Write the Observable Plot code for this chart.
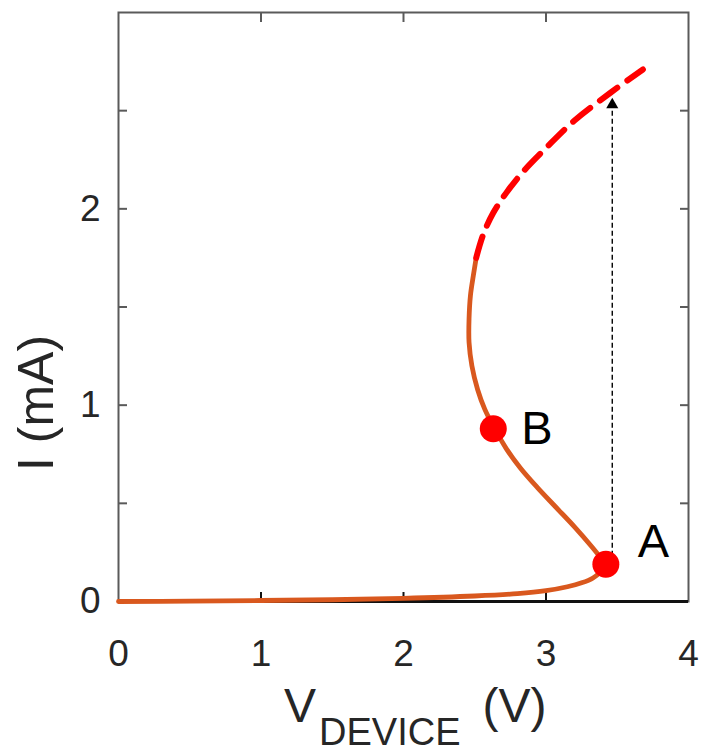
<!DOCTYPE html>
<html><head><meta charset="utf-8">
<script src="https://cdn.jsdelivr.net/npm/d3@7"></script>
<script src="https://cdn.jsdelivr.net/npm/@observablehq/plot@0.6"></script>
<style>
body{margin:0;background:#fff;overflow:hidden;}
svg{font-family:"Liberation Sans",Arial,Helvetica,sans-serif;display:block;}
</style>
</head><body><div id="chart"></div>
<script>
// Stable (solid) branch: low-current part up to A
const lowV = [0, 0.5, 1, 1.5, 2, 2.5, 2.8, 3.0, 3.15, 3.25, 3.33, 3.38, 3.42];
const lowI = [0, 0.002, 0.005, 0.009, 0.016, 0.028, 0.04, 0.055, 0.075, 0.095, 0.12, 0.15, 0.19];
// Solid branch from A back through B to the turning point
const midV = [3.42, 3.32, 3.2, 3.07, 2.94, 2.82, 2.72, 2.64, 2.57, 2.52, 2.48, 2.46, 2.46, 2.47, 2.49, 2.51];
const midI = [0.19, 0.28, 0.38, 0.48, 0.58, 0.68, 0.78, 0.88, 0.98, 1.08, 1.2, 1.32, 1.44, 1.56, 1.66, 1.75];
// Dashed upper branch
const upV = [2.51, 2.56, 2.63, 2.72, 2.84, 3.0, 3.2, 3.45, 3.68];
const upI = [1.75, 1.87, 1.98, 2.08, 2.19, 2.31, 2.45, 2.59, 2.71];
// Marked points
const ptLabel = ["A", "B"];
const ptV = [3.42, 2.63];
const ptI = [0.19, 0.88];
// Jump arrow
const jumpV = 3.465;
const jumpFrom = 0.19;
const jumpTo = 2.59;
// Ticks and axis texts
const xTicks = [0, 1, 2, 3, 4];
const xInnerTicks = [1, 2, 3];
const yLabelTicks = [0, 1, 2];
const yInnerTicks = [0.5, 1, 1.5, 2, 2.5];
const yTitle = "I (mA)";
const xTitleMain = "V";
const xTitleSub = "DEVICE";
const xTitleUnit = "(V)";

const low = lowV.map((v, i) => ({v, i: lowI[i]}));
const mid = midV.map((v, i) => ({v, i: midI[i]}));
const up = upV.map((v, i) => ({v, i: upI[i]}));
const pts = ptLabel.map((l, k) => ({label: l, v: ptV[k], i: ptI[k]}));

const orange = "#d9581e";
const frameColor = "#5a5a5a";
const textColor = "#262626";

const plot = Plot.plot({
  width: 705,
  height: 755,
  marginLeft: 118,
  marginRight: 17,
  marginTop: 12,
  marginBottom: 154,
  style: {fontFamily: "Liberation Sans, Arial, sans-serif", color: textColor, background: "#fff"},
  x: {domain: [0, 4]},
  y: {domain: [0, 3]},
  marks: [
    Plot.frame({stroke: frameColor, strokeWidth: 2}),
    // inner ticks
    Plot.axisX(xInnerTicks, {anchor: "bottom", tickSize: -9, tickFormat: () => "", stroke: "#111", strokeWidth: 2, label: null}),
    Plot.axisX(xInnerTicks, {anchor: "top", tickSize: -9, tickFormat: () => "", stroke: frameColor, strokeWidth: 2, label: null}),
    Plot.axisY(yInnerTicks, {anchor: "left", tickSize: -9, tickFormat: () => "", stroke: frameColor, strokeWidth: 2, label: null}),
    Plot.axisY(yInnerTicks, {anchor: "right", tickSize: -9, tickFormat: () => "", stroke: frameColor, strokeWidth: 2, label: null}),
    // tick labels
    Plot.axisX(xTicks, {anchor: "bottom", tickSize: 0, tickPadding: 38, fontSize: 37, tickFormat: d3.format("d"), fill: textColor, label: null}),
    Plot.axisY(yLabelTicks, {anchor: "left", tickSize: 0, tickPadding: 18, fontSize: 37, tickFormat: d3.format("d"), fill: textColor, label: null}),
    // bottom axis line (black)
    Plot.ruleY([0], {stroke: "#111", strokeWidth: 3}),
    // curves
    Plot.line(low, {x: "v", y: "i", stroke: orange, strokeWidth: 4.8, curve: "catmull-rom"}),
    Plot.line(mid, {x: "v", y: "i", stroke: orange, strokeWidth: 4.8, curve: "catmull-rom"}),
    Plot.line(up, {x: "v", y: "i", stroke: "#ff0000", strokeWidth: 6, strokeDasharray: "22,12", curve: "catmull-rom"}),
    // jump arrow
    Plot.ruleX([jumpV], {y1: jumpFrom, y2: jumpTo - 0.05, stroke: "#000", strokeWidth: 1.4, strokeDasharray: "5,3"}),
    Plot.dot([jumpV], {x: d => d, y: () => jumpTo - 0.06, symbol: "triangle", r: 4.5, fill: "#000", stroke: "none"}),
    // points
    Plot.dot(pts, {x: "v", y: "i", r: 13.5, fill: "#ff0000", stroke: "none"}),
    Plot.text(pts.filter(d => d.label === "A"), {x: "v", y: "i", text: "label", textAnchor: "start", dx: 32, dy: -22, fontSize: 47, fill: "#000"}),
    Plot.text(pts.filter(d => d.label === "B"), {x: "v", y: "i", text: "label", textAnchor: "start", dx: 28, dy: 0, fontSize: 47, fill: "#000"})
  ]
});

document.getElementById("chart").appendChild(plot);

const svg = d3.select(plot);
// y axis title
svg.append("text")
  .attr("transform", "translate(53,403) rotate(-90)")
  .attr("text-anchor", "middle")
  .attr("fill", textColor)
  .attr("font-family", "Liberation Sans, Arial, sans-serif")
  .attr("font-size", 50)
  .text(yTitle);
// x axis title with subscript
const xl = svg.append("text")
  .attr("x", 284)
  .attr("y", 722)
  .attr("text-anchor", "start")
  .attr("fill", textColor)
  .attr("font-family", "Liberation Sans, Arial, sans-serif")
  .attr("font-size", 48);
xl.append("tspan").text(xTitleMain);
xl.append("tspan").attr("font-size", 38).attr("dy", 23).attr("dx", 3).text(xTitleSub);
xl.append("tspan").attr("dy", -23).attr("dx", 22).text(xTitleUnit);
</script>
</body></html>
